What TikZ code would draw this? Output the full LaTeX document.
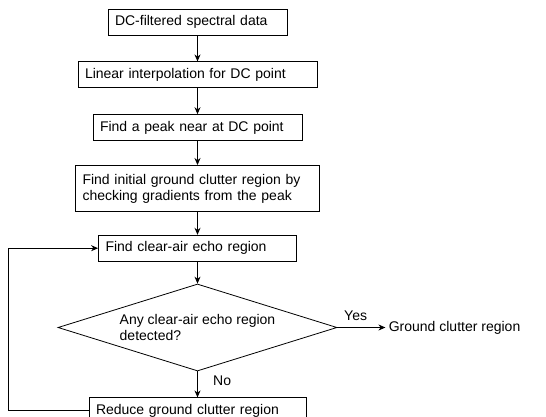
\documentclass[tikz,border=0pt]{standalone}
\usepackage{fontspec}
\setmainfont{Liberation Sans}
\usetikzlibrary{shapes.geometric, arrows.meta, positioning}

\begin{document}
\begin{tikzpicture}[
    x=1pt, y=1pt,
    line width=0.8pt,
    every node/.style={font=\fontsize{14}{16}\selectfont},
    box/.style={rectangle, draw, minimum height=26pt, inner xsep=7pt, inner ysep=3pt, align=left},
    decision/.style={diamond, draw, aspect=3.2, inner sep=0pt, minimum width=279pt, minimum height=87pt, align=left},
    arrow/.style={->, >={Stealth[length=7pt, width=6pt]}}
]
    \useasboundingbox (0,0) rectangle (546,-417);

    % Main steps
    \node[box, text width=165pt] (filtered) at (197.5,-22) {DC-filtered spectral data};
    \node[box, text width=225pt, below=26pt of filtered] (interp) {Linear interpolation for DC point};
    \node[box, text width=195pt, below=26pt of interp] (peak) {Find a peak near at DC point};
    \node[box, text width=230pt, minimum height=46pt, below=24pt of peak] (initial) {Find initial ground clutter region by\\checking gradients from the peak};
    \node[box, text width=184pt, below=23pt of initial] (clearair) {Find clear-air echo region};

    % Decision and outcomes
    \node[decision, below=22pt of clearair] (detected) {Any clear-air echo region\\detected?};
    \node[right=48pt of detected, inner xsep=3pt] (gcr) {Ground clutter region};
    \node[box, text width=203pt, below=26pt of detected] (reduce) {Reduce ground clutter region};

    % Arrows
    \draw[arrow] (filtered) -- (interp);
    \draw[arrow] (interp) -- (peak);
    \draw[arrow] (peak) -- (initial);
    \draw[arrow] (initial) -- (clearair);
    \draw[arrow] (clearair) -- (detected);
    \draw[arrow] (detected.east) -- (gcr.west) node[pos=0.38, above=3pt] {Yes};
    \draw[arrow] (detected.south) -- (reduce.north) node[pos=0.37, right=12pt] {No};
    \draw[arrow] (reduce.west) -- ++(-80,0) |- (clearair.west);
\end{tikzpicture}
\end{document}
